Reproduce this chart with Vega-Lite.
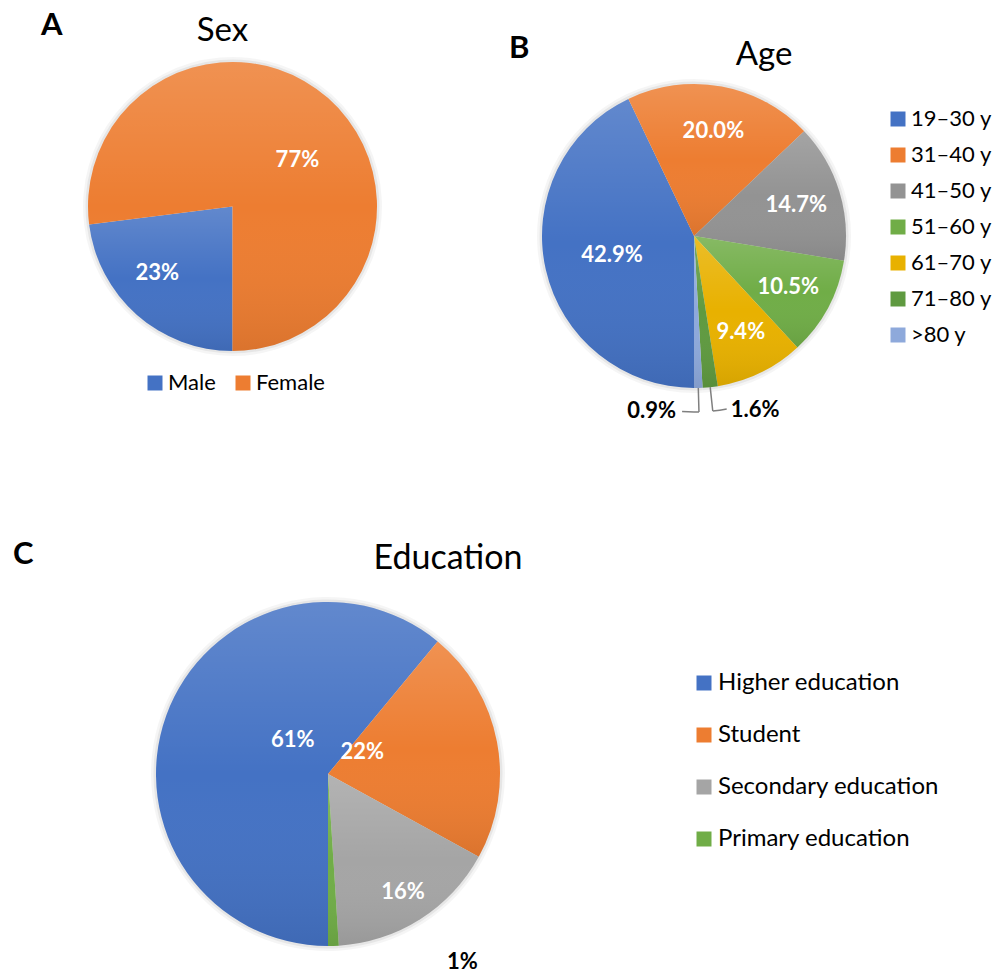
{
  "$schema": "https://vega.github.io/schema/vega-lite/v6.json",
  "autosize": {"type": "none"},
  "padding": {"left": 88, "top": 62, "right": 917, "bottom": 912},
  "background": "white",
  "config": {
    "font": "Lato",
    "view": {"stroke": null},
    "title": {"font": "Lato", "fontWeight": "normal", "color": "#000000"},
    "legend": {"labelFont": "Lato", "labelColor": "#000000", "symbolType": "square", "symbolSize": 225, "symbolStrokeWidth": 0, "symbolOpacity": 1, "padding": 0, "labelLimit": 400},
    "text": {"font": "Lato"}
  },
  "bounds": "flush",
  "spacing": 540,
  "resolve": {"scale": {"color": "independent", "theta": "independent"}, "legend": {"color": "independent"}},
  "vconcat": [
    {
      "hconcat": [
        {
          "title": {"text": "A", "anchor": "start", "frame": "group", "fontSize": 31, "fontWeight": "bold", "dx": -47, "dy": 51, "offset": 0, "baseline": "alphabetic"},
          "bounds": "flush",
          "resolve": {"scale": {"color": "independent", "theta": "independent"}, "legend": {"color": "independent"}},
          "vconcat": [
            {
              "width": 289, "height": 289,
              "title": {"text": "Sex", "fontSize": 33, "anchor": "middle", "frame": "group", "dx": -10, "offset": -17, "baseline": "alphabetic"},
              "data": {"values": [
                {"sex": "Male", "pct": 23, "k": 1},
                {"sex": "Female", "pct": 77, "k": 2}
              ]},
              "transform": [
                {"stack": "pct", "groupby": [], "sort": [{"field": "k", "order": "ascending"}], "as": ["s0", "s1"]},
                {"calculate": "(datum.s0 + datum.s1) / 2", "as": "mid"},
                {"calculate": "datum.pct + '%'", "as": "lbl"}
              ],
              "layer": [
                {
                  "mark": {"type": "arc", "radius": 149.5, "color": "#000000", "opacity": 0.04},
                  "encoding": {"theta": {"field": "s0", "type": "quantitative", "stack": null, "scale": {"domain": [0, 100], "range": [3.14159265, 9.42477796]}}, "theta2": {"field": "s1"}}
                },
                {
                  "mark": {"type": "arc", "radius": 147, "color": "#000000", "opacity": 0.06},
                  "encoding": {"theta": {"field": "s0", "type": "quantitative", "stack": null}, "theta2": {"field": "s1"}}
                },
                {
                  "mark": {"type": "arc", "radius": 144.5},
                  "encoding": {
                    "theta": {"field": "s0", "type": "quantitative", "stack": null},
                    "theta2": {"field": "s1"},
                    "color": {"field": "sex", "type": "nominal",
                      "scale": {"domain": ["Male", "Female"], "range": ["#4472C4", "#ED7D31"]},
                      "legend": {"title": null, "orient": "none", "legendX": 56, "legendY": 310, "direction": "horizontal", "columns": 2, "labelFontSize": 22, "labelOffset": 2, "columnPadding": 16}}
                  }
                },
                {
                  "mark": {"type": "arc", "radius": 144.5, "fill": {"gradient": "linear", "x1": 0, "y1": 0, "x2": 0, "y2": 1, "stops": [{"offset": 0, "color": "rgba(255,255,255,0.16)"}, {"offset": 0.5, "color": "rgba(255,255,255,0)"}, {"offset": 1, "color": "rgba(0,0,0,0.08)"}]}},
                  "encoding": {
                    "theta": {"field": "s0", "type": "quantitative", "stack": null},
                    "theta2": {"field": "s1"}
                  }
                },
                {
                  "transform": [{"filter": "datum.sex == 'Female'"}],
                  "mark": {"type": "text", "radius": 80, "dx": 12, "dy": 14, "fontSize": 22, "fontWeight": "bold", "color": "#FFFFFF", "align": "center", "baseline": "middle"},
                  "encoding": {"theta": {"field": "mid", "type": "quantitative", "stack": null}, "text": {"field": "lbl"}}
                },
                {
                  "transform": [{"filter": "datum.sex == 'Male'"}],
                  "mark": {"type": "text", "radius": 100, "dx": -9, "dy": -9, "fontSize": 22, "fontWeight": "bold", "color": "#FFFFFF", "align": "center", "baseline": "middle"},
                  "encoding": {"theta": {"field": "mid", "type": "quantitative", "stack": null}, "text": {"field": "lbl"}}
                }
              ]
            }
          ]
        },
        {
          "title": {"text": "B", "anchor": "start", "frame": "group", "fontSize": 31, "fontWeight": "bold", "dx": -33, "dy": 50, "offset": 0, "baseline": "alphabetic"},
          "bounds": "flush",
          "resolve": {"scale": {"color": "independent", "theta": "independent"}, "legend": {"color": "independent"}},
          "vconcat": [
            {
              "width": 304, "height": 348,
              "title": {"text": "Age", "fontSize": 33, "anchor": "middle", "frame": "group", "dx": 70, "offset": -36, "baseline": "alphabetic"},
              "data": {"values": [
                {"age": "19–30 y", "pct": 42.9, "k": 1},
                {"age": "31–40 y", "pct": 20.0, "k": 2},
                {"age": "41–50 y", "pct": 14.7, "k": 3},
                {"age": "51–60 y", "pct": 10.5, "k": 4},
                {"age": "61–70 y", "pct": 9.4, "k": 5},
                {"age": "71–80 y", "pct": 1.6, "k": 6},
                {"age": ">80 y", "pct": 0.9, "k": 7}
              ]},
              "transform": [
                {"stack": "pct", "groupby": [], "sort": [{"field": "k", "order": "ascending"}], "as": ["s0", "s1"]},
                {"calculate": "(datum.s0 + datum.s1) / 2", "as": "mid"},
                {"calculate": "format(datum.pct, '.1f') + '%'", "as": "lbl"}
              ],
              "layer": [
                {
                  "mark": {"type": "arc", "radius": 157, "color": "#000000", "opacity": 0.04},
                  "encoding": {"theta": {"field": "s0", "type": "quantitative", "stack": null, "scale": {"domain": [0, 100], "range": [3.14159265, 9.42477796]}}, "theta2": {"field": "s1"}}
                },
                {
                  "mark": {"type": "arc", "radius": 154.5, "color": "#000000", "opacity": 0.06},
                  "encoding": {"theta": {"field": "s0", "type": "quantitative", "stack": null}, "theta2": {"field": "s1"}}
                },
                {
                  "mark": {"type": "arc", "radius": 152},
                  "encoding": {
                    "theta": {"field": "s0", "type": "quantitative", "stack": null},
                    "theta2": {"field": "s1"},
                    "color": {"field": "age", "type": "nominal",
                      "scale": {"domain": ["19–30 y", "31–40 y", "41–50 y", "51–60 y", "61–70 y", "71–80 y", ">80 y"],
                                "range": ["#4472C4", "#ED7D31", "#939393", "#70AD47", "#E8B100", "#5F9A40", "#8EA9DB"]},
                      "legend": {"title": null, "orient": "none", "legendX": 345, "legendY": 46, "direction": "vertical", "columns": 1, "labelFontSize": 22, "labelOffset": 2, "rowPadding": 14}}
                  }
                },
                {
                  "mark": {"type": "arc", "radius": 152, "fill": {"gradient": "linear", "x1": 0, "y1": 0, "x2": 0, "y2": 1, "stops": [{"offset": 0, "color": "rgba(255,255,255,0.16)"}, {"offset": 0.5, "color": "rgba(255,255,255,0)"}, {"offset": 1, "color": "rgba(0,0,0,0.08)"}]}},
                  "encoding": {
                    "theta": {"field": "s0", "type": "quantitative", "stack": null},
                    "theta2": {"field": "s1"}
                  }
                },
                {
                  "transform": [{"filter": "datum.pct < 2"}],
                  "mark": {"type": "arc", "radius": 176, "radius2": 152, "filled": false, "color": "#7F7F7F", "strokeWidth": 1.5},
                  "encoding": {"theta": {"field": "mid", "type": "quantitative", "stack": null}, "theta2": {"field": "mid"}}
                },
                {
                  "transform": [{"filter": "datum.age == '>80 y'"}],
                  "mark": {"type": "arc", "radius": 176, "radius2": 176, "filled": false, "color": "#7F7F7F", "strokeWidth": 1.5, "theta2Offset": 0.096},
                  "encoding": {"theta": {"field": "mid", "type": "quantitative", "stack": null}, "theta2": {"field": "mid"}}
                },
                {
                  "transform": [{"filter": "datum.age == '71–80 y'"}],
                  "mark": {"type": "arc", "radius": 176, "radius2": 176, "filled": false, "color": "#7F7F7F", "strokeWidth": 1.5, "theta2Offset": -0.08},
                  "encoding": {"theta": {"field": "mid", "type": "quantitative", "stack": null}, "theta2": {"field": "mid"}}
                },
                {
                  "transform": [{"filter": "datum.pct > 5 && datum.pct < 40"}],
                  "mark": {"type": "text", "radius": 107, "fontSize": 22, "fontWeight": "bold", "color": "#FFFFFF", "align": "center", "baseline": "middle"},
                  "encoding": {"theta": {"field": "mid", "type": "quantitative", "stack": null}, "text": {"field": "lbl"}}
                },
                {
                  "transform": [{"filter": "datum.pct > 40"}],
                  "mark": {"type": "text", "radius": 84, "fontSize": 22, "fontWeight": "bold", "color": "#FFFFFF", "align": "center", "baseline": "middle"},
                  "encoding": {"theta": {"field": "mid", "type": "quantitative", "stack": null}, "text": {"field": "lbl"}}
                },
                {
                  "transform": [{"filter": "datum.age == '>80 y'"}],
                  "mark": {"type": "text", "radius": 176, "dx": -23, "dy": -1, "fontSize": 22, "fontWeight": "bold", "color": "#000000", "align": "right", "baseline": "middle"},
                  "encoding": {"theta": {"field": "mid", "type": "quantitative", "stack": null}, "text": {"field": "lbl"}}
                },
                {
                  "transform": [{"filter": "datum.age == '71–80 y'"}],
                  "mark": {"type": "text", "radius": 176, "dx": 18, "dy": -1, "fontSize": 22, "fontWeight": "bold", "color": "#000000", "align": "left", "baseline": "middle"},
                  "encoding": {"theta": {"field": "mid", "type": "quantitative", "stack": null}, "text": {"field": "lbl"}}
                }
              ]
            }
          ]
        }
      ],
      "bounds": "flush",
      "spacing": 454,
      "resolve": {"scale": {"color": "independent", "theta": "independent"}, "legend": {"color": "independent"}}
    },
    {
      "title": {"text": "C", "anchor": "start", "frame": "group", "fontSize": 31, "fontWeight": "bold", "dx": -75, "dy": 53, "offset": 0, "baseline": "alphabetic"},
      "bounds": "flush",
      "resolve": {"scale": {"color": "independent", "theta": "independent"}, "legend": {"color": "independent"}},
      "vconcat": [
        {
          "width": 480, "height": 344,
          "title": {"text": "Education", "fontSize": 34, "anchor": "middle", "frame": "group", "dx": 120, "offset": -6, "baseline": "alphabetic"},
          "data": {"values": [
            {"edu": "Higher education", "pct": 61, "k": 1},
            {"edu": "Student", "pct": 22, "k": 2},
            {"edu": "Secondary education", "pct": 16, "k": 3},
            {"edu": "Primary education", "pct": 1, "k": 4}
          ]},
          "transform": [
            {"stack": "pct", "groupby": [], "sort": [{"field": "k", "order": "ascending"}], "as": ["s0", "s1"]},
            {"calculate": "(datum.s0 + datum.s1) / 2", "as": "mid"},
            {"calculate": "datum.pct + '%'", "as": "lbl"}
          ],
          "layer": [
            {
              "mark": {"type": "arc", "radius": 177, "color": "#000000", "opacity": 0.04},
              "encoding": {"theta": {"field": "s0", "type": "quantitative", "stack": null, "scale": {"domain": [0, 100], "range": [3.14159265, 9.42477796]}}, "theta2": {"field": "s1"}}
            },
            {
              "mark": {"type": "arc", "radius": 174.5, "color": "#000000", "opacity": 0.06},
              "encoding": {"theta": {"field": "s0", "type": "quantitative", "stack": null}, "theta2": {"field": "s1"}}
            },
            {
              "mark": {"type": "arc", "radius": 172},
              "encoding": {
                "theta": {"field": "s0", "type": "quantitative", "stack": null},
                "theta2": {"field": "s1"},
                "color": {"field": "edu", "type": "nominal",
                  "scale": {"domain": ["Higher education", "Student", "Secondary education", "Primary education"], "range": ["#4472C4", "#ED7D31", "#A5A5A5", "#70AD47"]},
                  "legend": {"title": null, "orient": "none", "legendX": 604, "legendY": 69, "direction": "vertical", "columns": 1, "labelFontSize": 24, "labelOffset": 2, "rowPadding": 28}}
              }
            },
            {
              "mark": {"type": "arc", "radius": 172, "fill": {"gradient": "linear", "x1": 0, "y1": 0, "x2": 0, "y2": 1, "stops": [{"offset": 0, "color": "rgba(255,255,255,0.16)"}, {"offset": 0.5, "color": "rgba(255,255,255,0)"}, {"offset": 1, "color": "rgba(0,0,0,0.08)"}]}},
              "encoding": {
                "theta": {"field": "s0", "type": "quantitative", "stack": null},
                "theta2": {"field": "s1"}
              }
            },
            {
              "transform": [{"filter": "datum.edu == 'Higher education'"}],
              "mark": {"type": "text", "radius": 48, "dx": 10, "dy": -18, "fontSize": 22, "fontWeight": "bold", "color": "#FFFFFF", "align": "center", "baseline": "middle"},
              "encoding": {"theta": {"field": "mid", "type": "quantitative", "stack": null}, "text": {"field": "lbl"}}
            },
            {
              "transform": [{"filter": "datum.edu == 'Student'"}],
              "mark": {"type": "text", "radius": 38, "dx": -3, "dy": -15, "fontSize": 22, "fontWeight": "bold", "color": "#FFFFFF", "align": "center", "baseline": "middle"},
              "encoding": {"theta": {"field": "mid", "type": "quantitative", "stack": null}, "text": {"field": "lbl"}}
            },
            {
              "transform": [{"filter": "datum.edu == 'Secondary education'"}],
              "mark": {"type": "text", "radius": 140, "fontSize": 22, "fontWeight": "bold", "color": "#FFFFFF", "align": "center", "baseline": "middle"},
              "encoding": {"theta": {"field": "mid", "type": "quantitative", "stack": null}, "text": {"field": "lbl"}}
            },
            {
              "transform": [{"filter": "datum.edu == 'Primary education'"}],
              "mark": {"type": "text", "radius": 190, "dx": 113, "dy": -2, "fontSize": 22, "fontWeight": "bold", "color": "#000000", "align": "left", "baseline": "middle"},
              "encoding": {"theta": {"field": "mid", "type": "quantitative", "stack": null}, "text": {"field": "lbl"}}
            }
          ]
        }
      ]
    }
  ]
}
